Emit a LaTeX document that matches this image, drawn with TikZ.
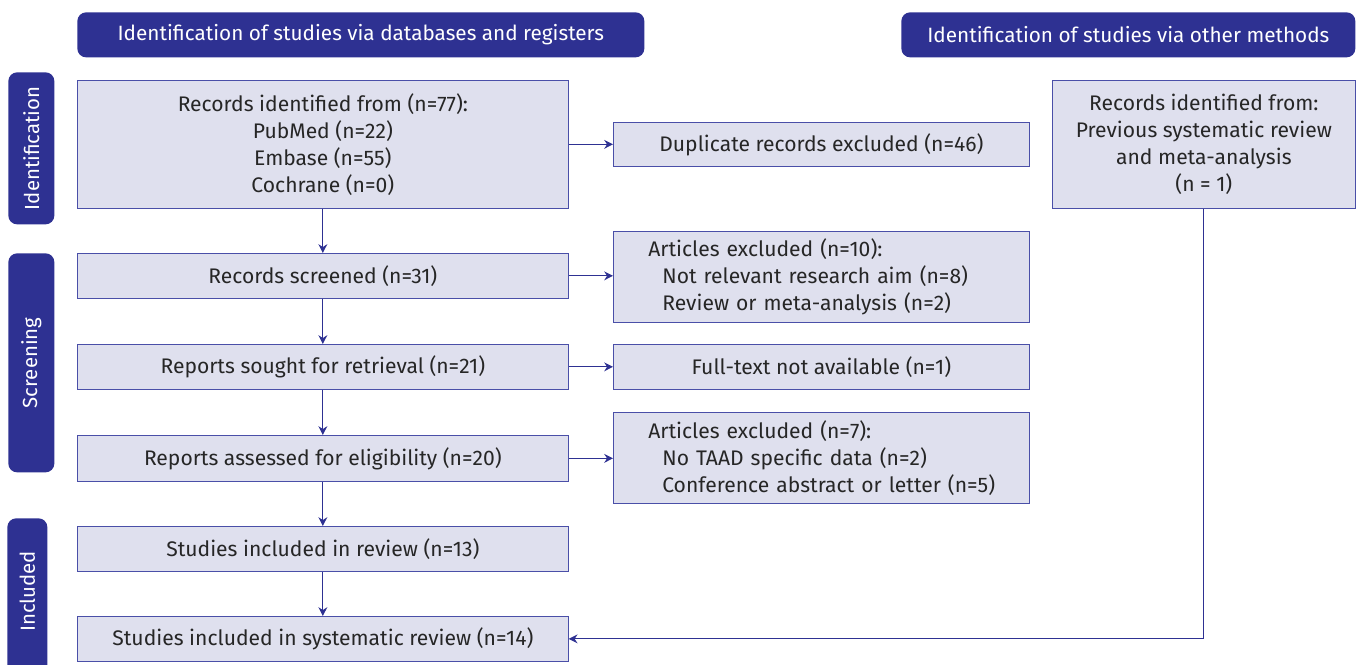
\documentclass[tikz,border=0pt]{standalone}
\usepackage{fontspec}
\setmainfont{Fira Sans}
\usetikzlibrary{arrows.meta,positioning}
\definecolor{prismablue}{HTML}{2E3192}
\definecolor{prismafill}{HTML}{DFE0EE}
\definecolor{prismaline}{HTML}{4A4FA8}
\tikzset{
    header/.style={fill=prismablue,rounded corners=5pt,text=white,anchor=north west,inner sep=0pt,font=\fontsize{11.8}{14}\selectfont},
    phase/.style={fill=prismablue,rounded corners=5pt,anchor=north west,inner sep=0pt},
    phasetext/.style={text=white,rotate=90,font=\fontsize{11.6}{14}\selectfont},
    box/.style={draw=prismaline,fill=prismafill,anchor=north west,inner sep=0pt,align=center,text=black!85,font=\fontsize{12}{15.4}\selectfont},
    listbox/.style={box,align=left,inner xsep=0.7cm,text width=6.92cm},
    flow/.style={draw=prismablue,semithick,-{Stealth[length=5pt,width=5pt]}}
}
\def\wide{9.82cm}
\def\side{8.32cm}
\newcommand\exclitem[1]{\hspace*{0.28cm}\mbox{#1}}

\begin{document}
\begin{tikzpicture}
  \useasboundingbox (0,0) rectangle (27.14,-13.28);

  % Headers
  \node[header,minimum width=11.34cm,minimum height=0.9cm] (hdb) at (1.54,-0.24) {Identification of studies via databases and registers};
  \node[header,minimum width=9.08cm,minimum height=0.9cm] (hother) at (18.02,-0.24) {Identification of studies via other methods};

  % Phases
  \node[phase,minimum width=0.92cm,minimum height=3.04cm] (pid) at (0.16,-1.44) {};
  \node[phasetext] at (pid.center) {Identification};
  \node[phase,minimum width=0.92cm,minimum height=4.38cm] (pscr) at (0.16,-5.06) {};
  \node[phasetext] at (pscr.center) {Screening};
  \node[phase,minimum width=0.8cm,minimum height=3.4cm] (pinc) at (0.14,-10.36) {};
  \node[phasetext] at ([yshift=0.24cm]pinc.center) {Included};

  % Left column
  \node[box,minimum width=\wide,minimum height=2.56cm] (ident) at (1.54,-1.6) {Records identified from (n=77):\\PubMed (n=22)\\Embase (n=55)\\Cochrane (n=0)};
  \node[box,minimum width=\wide,minimum height=0.9cm] (screened) at (1.54,-5.06) {Records screened (n=31)};
  \node[box,minimum width=\wide,minimum height=0.9cm] (sought) at (1.54,-6.88) {Reports sought for retrieval (n=21)};
  \node[box,minimum width=\wide,minimum height=0.92cm] (assessed) at (1.54,-8.7) {Reports assessed for eligibility (n=20)};
  \node[box,minimum width=\wide,minimum height=0.9cm] (inrev) at (1.54,-10.52) {Studies included in review (n=13)};
  \node[box,minimum width=\wide,minimum height=0.9cm] (sysrev) at (1.54,-12.32) {Studies included in systematic review (n=14)};

  % Exclusions
  \node[box,minimum width=\side,minimum height=0.88cm] (dup) at (12.26,-2.44) {Duplicate records excluded (n=46)};
  \node[listbox,minimum height=1.82cm] (excla) at (12.26,-4.62) {Articles excluded (n=10):\\\exclitem{Not relevant research aim (n=8)}\\\exclitem{Review or meta-analysis (n=2)}};
  \node[box,minimum width=\side,minimum height=0.9cm] (fulltext) at (12.26,-6.88) {Full-text not available (n=1)};
  \node[listbox,minimum height=1.82cm] (exclb) at (12.26,-8.24) {Articles excluded (n=7):\\\exclitem{No TAAD specific data (n=2)}\\\exclitem{Conference abstract or letter (n=5)}};

  % Other methods
  \node[box,minimum width=6.06cm,minimum height=2.56cm] (other) at (21.04,-1.6) {Records identified from:\\Previous systematic review\\and meta-analysis\\(n = 1)};

  % Arrows
  \draw[flow] (ident) -- (screened);
  \draw[flow] (screened) -- (sought);
  \draw[flow] (sought) -- (assessed);
  \draw[flow] (assessed) -- (inrev);
  \draw[flow] (inrev) -- (sysrev);
  \draw[flow] (ident) -- (dup);
  \draw[flow] (screened.east) -- (screened.east -| excla.west);
  \draw[flow] (sought) -- (fulltext);
  \draw[flow] (assessed.east) -- (assessed.east -| exclb.west);
  \draw[flow] (other.south) |- (sysrev.east);
\end{tikzpicture}
\end{document}
